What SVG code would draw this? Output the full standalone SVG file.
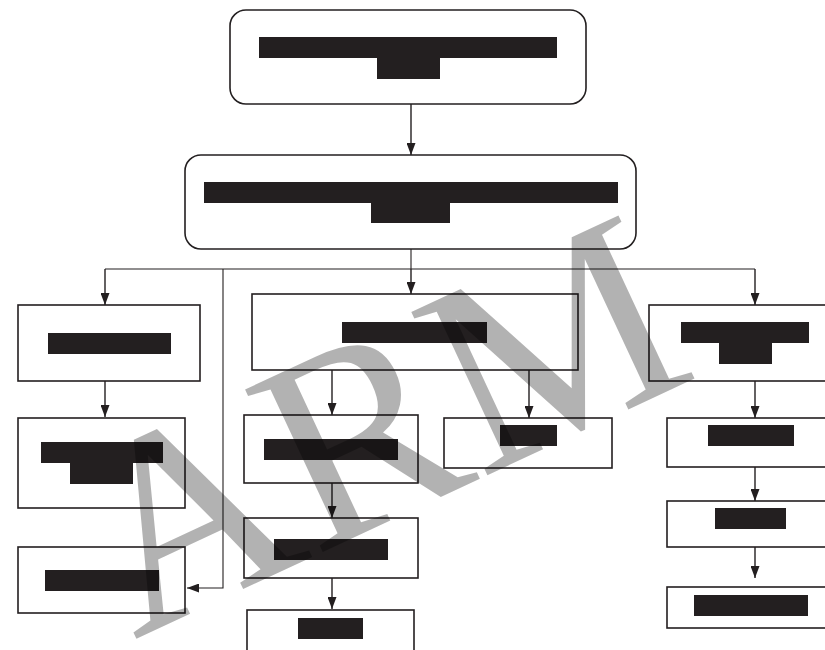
<svg xmlns="http://www.w3.org/2000/svg" width="825" height="650" viewBox="0 0 825 650">
  <style>
    .box { fill: #fff; stroke: #231f20; stroke-width: 1.6; }
    .bar { fill: #231f20; }
    .wire { fill: none; stroke: #231f20; stroke-width: 1.4; }
    .thin { stroke-width: 1.1; }
    .mark { font-family: "Liberation Serif", "Times New Roman", serif; font-size: 275px; fill: #000; fill-opacity: 0.3; }
  </style>
  <defs>
    <marker id="head" viewBox="0 0 12 9" refX="12" refY="4.5" markerWidth="12" markerHeight="9" markerUnits="userSpaceOnUse" orient="auto">
      <path d="M0,0 L12,4.5 L0,9 Z" fill="#231f20"/>
    </marker>
  </defs>
  <rect width="825" height="650" fill="#fff"/>

  <!-- connectors -->
  <g id="connectors" class="wire">
    <path d="M411,104 V155" marker-end="url(#head)"/>
    <path class="thin" d="M411,249 V269"/>
    <path class="thin" d="M105,269 H755"/>
    <path d="M105,269 V305" marker-end="url(#head)"/>
    <path d="M411,269 V294" marker-end="url(#head)"/>
    <path d="M755,269 V305" marker-end="url(#head)"/>
    <path class="thin" d="M223,269 V588 H187" marker-end="url(#head)"/>
    <path d="M105,381 V417" marker-end="url(#head)"/>
    <path d="M332,370 V415" marker-end="url(#head)"/>
    <path d="M529,370 V418" marker-end="url(#head)"/>
    <path d="M332,483 V518" marker-end="url(#head)"/>
    <path d="M332,578 V609" marker-end="url(#head)"/>
    <path d="M755,381 V418" marker-end="url(#head)"/>
    <path d="M755,467 V501" marker-end="url(#head)"/>
    <path d="M755,547 V578" marker-end="url(#head)"/>
  </g>

  <!-- top -->
  <g id="n-top">
    <rect class="box" x="230" y="10" width="356" height="94" rx="16"/>
    <rect class="bar" x="259" y="37" width="298" height="21"/>
    <rect class="bar" x="377" y="57" width="63" height="22"/>
  </g>
  <g id="n-second">
    <rect class="box" x="185" y="155" width="451" height="94" rx="16"/>
    <rect class="bar" x="204" y="182" width="414" height="21"/>
    <rect class="bar" x="371" y="202" width="79" height="21"/>
  </g>

  <!-- left column -->
  <g id="n-left-1">
    <rect class="box" x="18" y="305" width="182" height="76"/>
    <rect class="bar" x="48" y="333" width="123" height="21"/>
  </g>
  <g id="n-left-2">
    <rect class="box" x="18" y="418" width="167" height="90"/>
    <rect class="bar" x="41" y="442" width="122" height="21"/>
    <rect class="bar" x="70" y="462" width="63" height="22"/>
  </g>
  <g id="n-left-3">
    <rect class="box" x="18" y="547" width="167" height="66"/>
    <rect class="bar" x="45" y="570" width="114" height="21"/>
  </g>

  <!-- middle column -->
  <g id="n-mid-1">
    <rect class="box" x="252" y="294" width="326" height="76"/>
    <rect class="bar" x="342" y="322" width="145" height="21"/>
  </g>
  <g id="n-mid-2">
    <rect class="box" x="244" y="415" width="174" height="68"/>
    <rect class="bar" x="264" y="439" width="134" height="21"/>
  </g>
  <g id="n-mid-3">
    <rect class="box" x="444" y="418" width="168" height="50"/>
    <rect class="bar" x="500" y="425" width="57" height="21"/>
  </g>
  <g id="n-mid-4">
    <rect class="box" x="244" y="518" width="174" height="60"/>
    <rect class="bar" x="274" y="539" width="114" height="21"/>
  </g>
  <g id="n-mid-5">
    <rect class="box" x="247" y="610" width="167" height="50"/>
    <rect class="bar" x="298" y="618" width="65" height="21"/>
  </g>

  <!-- right column -->
  <g id="n-right-1">
    <rect class="box" x="649" y="305" width="190" height="76"/>
    <rect class="bar" x="681" y="322" width="128" height="21"/>
    <rect class="bar" x="719" y="342" width="53" height="22"/>
  </g>
  <g id="n-right-2">
    <rect class="box" x="667" y="418" width="172" height="49"/>
    <rect class="bar" x="708" y="425" width="86" height="21"/>
  </g>
  <g id="n-right-3">
    <rect class="box" x="667" y="501" width="172" height="46"/>
    <rect class="bar" x="715" y="508" width="71" height="21"/>
  </g>
  <g id="n-right-4">
    <rect class="box" x="667" y="587" width="172" height="41"/>
    <rect class="bar" x="694" y="595" width="114" height="21"/>
  </g>

  <!-- watermark -->
  <text class="mark" x="134" y="640" transform="rotate(-25 134 640)">ARM</text>
</svg>
